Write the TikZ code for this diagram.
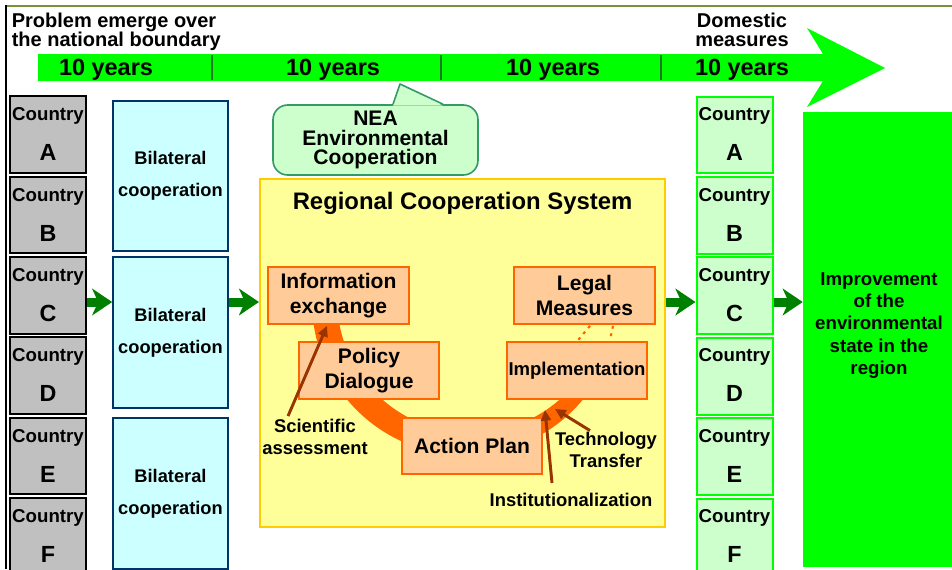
\documentclass[tikz,border=0pt]{standalone}
\usepackage{fontspec}
\setmainfont{Liberation Sans}
\usetikzlibrary{arrows.meta,positioning}
\definecolor{BrightGreen}{HTML}{00FF00}
\definecolor{DarkGreen}{HTML}{008000}
\definecolor{DivGreen}{HTML}{1E7A1E}
\definecolor{OliveLine}{HTML}{77933C}
\definecolor{GreyBox}{HTML}{C0C0C0}
\definecolor{CyanBox}{HTML}{CCFFFF}
\definecolor{NavyLine}{HTML}{003366}
\definecolor{MintBox}{HTML}{CCFFCC}
\definecolor{TealLine}{HTML}{339966}
\definecolor{YellowBox}{HTML}{FFFF99}
\definecolor{YellowLine}{HTML}{FFCC00}
\definecolor{PeachBox}{HTML}{FFCC99}
\definecolor{OrangeLine}{HTML}{FF6600}
\definecolor{BrownArrow}{HTML}{993300}

\begin{document}
\begin{tikzpicture}[x=0.75pt,y=-0.75pt,font=\bfseries,
  ctrybox/.style={line width=1.5pt,minimum width=57pt,minimum height=57.5pt,inner sep=0pt},
  ctryleft/.style={ctrybox,draw=black,fill=GreyBox},
  ctryright/.style={ctrybox,draw=BrightGreen,fill=MintBox},
  ctryword/.style={font=\fontsize{14}{16}\selectfont\bfseries,inner sep=0pt,anchor=base},
  ctryletter/.style={font=\fontsize{17.5}{20}\selectfont\bfseries,inner sep=0pt,anchor=base},
  yearlbl/.style={font=\fontsize{17.6}{20}\selectfont\bfseries,inner sep=0pt},
  headlbl/.style={font=\fontsize{15}{14.2}\selectfont\bfseries,inner sep=0pt},
  bilat/.style={draw=NavyLine,line width=1.5pt,fill=CyanBox,minimum width=86pt,minimum height=113pt,align=center,font=\fontsize{13.7}{23.7}\selectfont\bfseries},
  region/.style={draw=YellowLine,line width=1.5pt,fill=YellowBox,minimum width=303.75pt,minimum height=261pt},
  stage/.style={draw=OrangeLine,line width=1.5pt,fill=PeachBox,minimum width=105.5pt,minimum height=42.5pt,align=center,inner sep=1pt,font=\fontsize{15.8}{18.5}\selectfont\bfseries},
  callout/.style={draw=TealLine,line width=1.2pt,fill=MintBox,rounded corners=11pt,minimum width=153.75pt,minimum height=52.5pt,align=center,inner sep=1pt,font=\fontsize{15.8}{14.6}\selectfont\bfseries},
  note/.style={align=center,inner sep=0pt,font=\fontsize{13.8}{16.4}\selectfont\bfseries},
  flow/.style={DarkGreen,line width=6.75pt,-{Stealth[length=15pt,width=20pt,inset=4.5pt]}},
  input/.style={BrownArrow,line width=2.2pt,-{Triangle[length=8pt,width=7.5pt]}}]
  \useasboundingbox (0,0) rectangle (952,569);
  \clip (0,0) rectangle (952,569);
  \fill[BrightGreen] (38,54) -- (823,54) -- (807,28) -- (885,68) -- (807,107) -- (823,81) -- (38,81) -- cycle;
  \foreach \x in {212,441,661}{\draw[DivGreen,line width=1.8pt] (\x,55) -- (\x,80);}
  \foreach \x [count=\i] in {106,333,553,742}{\node[yearlbl] (yr\i) at (\x,69.5) {10 years};}
  \draw[OliveLine,line width=1.5pt] (5,6) -- (952,6);
  \draw[black,line width=1.7pt] (6,5) -- (6,569);
  \node[headlbl,align=left,anchor=north west] (prob) at (11.5,12.5) {Problem emerge over\\the national boundary};
  \node[headlbl,align=center,anchor=north] (dom) at (742,12.5) {Domestic\\measures};
  \foreach \l [count=\i from 0] in {A,B,C,D,E,F}{
    \node[ctryleft] (l\l) at (48,{134.5+80.4*\i}) {};
    \node[ctryword] (lw\l) at ([shift={(0,25.5)}]l\l.north) {Country};
    \node[ctryletter] (ll\l) at ([shift={(0,65.5)}]l\l.north) {\l};
    \node[ctryright] (r\l) at (734.5,{135+80.4*\i}) {};
    \node[ctryword] (rw\l) at ([shift={(0,25)}]r\l.north) {Country};
    \node[ctryletter] (rl\l) at ([shift={(0,65)}]r\l.north) {\l};
  }
  \foreach \y [count=\i] in {176,332.5,493.5}{\node[bilat] (b\i) at (170.5,\y) {Bilateral\\cooperation};}
  \node[region] (rcs) at (462.5,353) {};
  \node[font=\fontsize{17.9}{20}\selectfont\bfseries,inner sep=0pt] (rcsTitle) at ([shift={(0,25)}]rcs.north) {Regional Cooperation System};
  \fill[OrangeLine] ([shift={(175:153)}]465,302) arc[start angle=175,end angle=35,radius=153]
    -- ([shift={(35:134)}]471,299) arc[start angle=35,end angle=175,radius=134] -- cycle;
  \node[stage] (info) at (338.5,295.5) {Information\\exchange};
  \node[stage] (legal) at (584.5,295.5) {Legal\\Measures};
  \node[stage] (policy) at (369,370.5) {Policy\\Dialogue};
  \node[stage,font=\fontsize{13.9}{16}\selectfont\bfseries] (impl) at (577,370.5) {Implementation};
  \node[stage,minimum height=42pt] (plan) at (472,446) {Action Plan};
  \draw[OrangeLine,line width=1.6pt,dash pattern=on 2.2pt off 3.5pt] ([shift={(5.5,1)}]legal.south) -- ([shift={(1,-1)}]impl.north);
  \draw[OrangeLine,line width=1.6pt,dash pattern=on 2.2pt off 3.5pt] ([shift={(28.5,1)}]legal.south) -- ([shift={(33,-1)}]impl.north);
  \node[callout] (nea) at (375.5,140) {NEA\\Environmental\\Cooperation};
  \coordinate (neaTip) at (400,84);
  \fill[MintBox] ([shift={(17.5,1.5)}]nea.north) -- (neaTip) -- ([shift={(67.5,1.5)}]nea.north) -- cycle;
  \draw[TealLine,line width=1.2pt,line join=round] ([shift={(17.5,0)}]nea.north) -- (neaTip) -- ([shift={(67.5,0)}]nea.north);
  \node[note] (sci) at (315,437) {Scientific\\assessment};
  \node[note] (tech) at (606,450) {Technology\\Transfer};
  \node[note] (inst) at (571,500) {Institutionalization};
  \coordinate (techTip) at (555,409);
  \coordinate (instTip) at (545,410);
  \draw[input] ([shift={(-27,-3)}]sci.north) -- ([shift={(-11.5,1)}]info.south);
  \draw[input] ([shift={(-16,-1.5)}]tech.north) -- (techTip);
  \draw[input] ([shift={(-19,-10)}]inst.north) -- (instTip);
  \node[fill=BrightGreen,minimum width=114pt,minimum height=341.25pt,inner sep=0pt] (imp) at (879,339.5) {};
  \node[note,font=\fontsize{14}{16.6}\selectfont\bfseries] (impTxt) at ([shift={(0,-14)}]imp.center) {Improvement\\of the\\environmental\\state in the\\region};
  \coordinate (fy) at (0,302);
  \foreach \a/\b in {lC/b2,b2/rcs,rcs/rC,rC/imp}{\draw[flow] (\a.east |- fy) -- (\b.west |- fy);}
\end{tikzpicture}
\end{document}
